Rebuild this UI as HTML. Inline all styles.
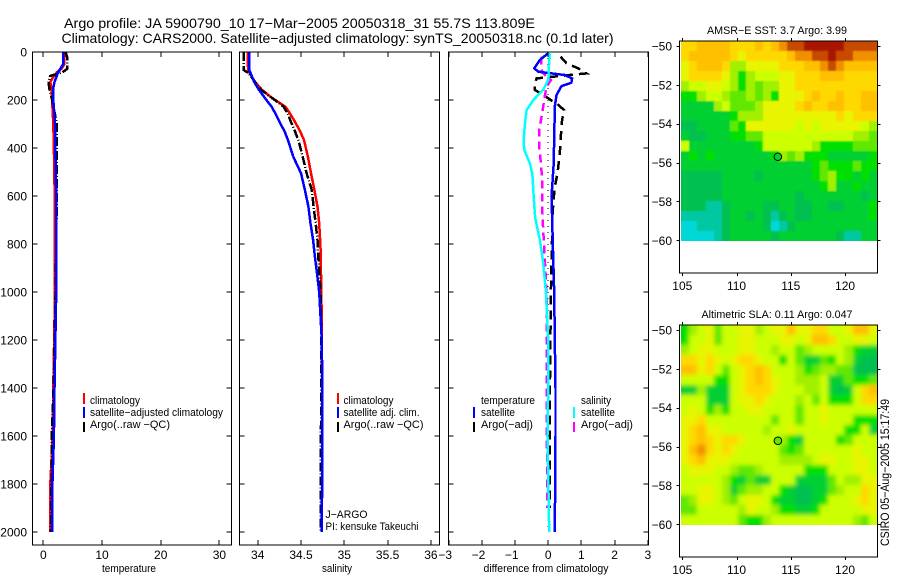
<!DOCTYPE html>
<html>
<head>
<meta charset="utf-8">
<title>Argo profile</title>
<style>
html,body{margin:0;padding:0;background:#fff;width:900px;height:580px;overflow:hidden}
svg{display:block}
text{font-family:"Liberation Sans",sans-serif;fill:#000}
.t14{font-size:14px}.t12{font-size:12px}.t11{font-size:11px}
</style>
</head>
<body>
<svg id="fig" width="900" height="580" viewBox="0 0 900 580" xmlns="http://www.w3.org/2000/svg">
<defs>
<filter id="soft-sst" x="-5%" y="-5%" width="110%" height="110%"><feGaussianBlur stdDeviation="0.9"/></filter>
<filter id="soft-sla" x="-5%" y="-5%" width="110%" height="110%"><feGaussianBlur stdDeviation="2"/></filter>
<clipPath id="clip-sst"><rect x="681" y="41" width="196" height="200"/></clipPath>
<clipPath id="clip-sla"><rect x="681" y="325" width="196" height="200"/></clipPath>
</defs>
<rect width="900" height="580" fill="#fff"/>
<text class="t14" x="64" y="28" textLength="471" lengthAdjust="spacingAndGlyphs">Argo profile: JA 5900790_10 17−Mar−2005 20050318_31 55.7S 113.809E</text>
<text class="t14" x="61.5" y="43" textLength="552" lengthAdjust="spacingAndGlyphs">Climatology: CARS2000. Satellite−adjusted climatology: synTS_20050318.nc (0.1d later)</text>

<text class="t11" x="129" y="572" text-anchor="middle" textLength="54" lengthAdjust="spacingAndGlyphs">temperature</text>
<text class="t11" x="337" y="572" text-anchor="middle" textLength="30" lengthAdjust="spacingAndGlyphs">salinity</text>
<text class="t11" x="546" y="572" text-anchor="middle" textLength="125" lengthAdjust="spacingAndGlyphs">difference from climatology</text>

<text class="t11" x="90" y="404" textLength="50" lengthAdjust="spacingAndGlyphs">climatology</text>
<text class="t11" x="90" y="416" textLength="133" lengthAdjust="spacingAndGlyphs">satellite−adjusted climatology</text>
<text class="t11" x="90" y="428" textLength="80" lengthAdjust="spacingAndGlyphs">Argo(..raw −QC)</text>
<rect x="83" y="393" width="2" height="11" fill="#f00"/>
<rect x="83" y="407" width="2" height="11" fill="#00f"/>
<rect x="83" y="422" width="2" height="10" fill="#000"/>

<text class="t11" x="343.5" y="404" textLength="50" lengthAdjust="spacingAndGlyphs">climatology</text>
<text class="t11" x="343.5" y="416" textLength="76" lengthAdjust="spacingAndGlyphs">satellite adj. clim.</text>
<text class="t11" x="343.5" y="428" textLength="80" lengthAdjust="spacingAndGlyphs">Argo(..raw −QC)</text>
<rect x="337" y="393" width="2" height="11" fill="#f00"/>
<rect x="337" y="407" width="2" height="11" fill="#00f"/>
<rect x="337" y="422" width="2" height="10" fill="#000"/>
<text class="t11" x="325.5" y="518" textLength="42" lengthAdjust="spacingAndGlyphs">J−ARGO</text>
<text class="t11" x="325.5" y="530" textLength="93" lengthAdjust="spacingAndGlyphs">PI: kensuke Takeuchi</text>

<text class="t11" x="481" y="404" textLength="54" lengthAdjust="spacingAndGlyphs">temperature</text>
<text class="t11" x="481" y="416" textLength="34" lengthAdjust="spacingAndGlyphs">satellite</text>
<text class="t11" x="481" y="428" textLength="52" lengthAdjust="spacingAndGlyphs">Argo(−adj)</text>
<rect x="473" y="407" width="2" height="11" fill="#00f"/>
<rect x="473" y="422" width="2" height="10" fill="#000"/>
<text class="t11" x="581" y="404" textLength="30" lengthAdjust="spacingAndGlyphs">salinity</text>
<text class="t11" x="581" y="416" textLength="34" lengthAdjust="spacingAndGlyphs">satellite</text>
<text class="t11" x="581" y="428" textLength="52" lengthAdjust="spacingAndGlyphs">Argo(−adj)</text>
<rect x="573" y="407" width="2" height="11" fill="#0ff"/>
<rect x="573" y="422" width="2" height="10" fill="#f0f"/>

<text class="t11" x="777" y="34" text-anchor="middle" textLength="140" lengthAdjust="spacingAndGlyphs">AMSR−E SST: 3.7 Argo: 3.99</text>
<text class="t11" x="777" y="318" text-anchor="middle" textLength="151" lengthAdjust="spacingAndGlyphs">Altimetric SLA: 0.11 Argo: 0.047</text>
<text class="t12" transform="translate(889,546) rotate(-90)" textLength="147" lengthAdjust="spacingAndGlyphs">CSIRO 05−Aug−2005 15:17:49</text>
</svg>
<script>
/* ---------- profile data ---------- */
const depthTicks = [0,200,400,600,800,1000,1200,1400,1600,1800,2000];
const tempTicks = [0,10,20,30];
const salTicks = [34,34.5,35,35.5,36];
const diffTicks = [-3,-2,-1,0,1,2,3];
const lonTicks = [105,110,115,120];
const latTicks = [-50,-52,-54,-56,-58,-60];

const tempDepths = [0,25,50,70,85,100,125,150,200,300,400,600,1000,1400,1600,1800,2000];
const tempClim = [3.6,3.6,3.6,3.1,2.3,1.8,1.2,1.4,1.5,1.7,1.8,1.95,2.0,1.7,1.6,1.2,1.15];
const tempSat = [3.4,3.4,3.4,2.9,2.5,2.3,1.9,1.7,1.7,2.0,2.05,2.2,2.2,1.9,1.8,1.55,1.5];
const tempArgo = [3.8,4.1,4.1,4.1,3.2,1.15,0.9,1.0,1.5,2.3,2.3,2.3,2.1,1.75,1.45,1.4,1.3];

const salDepths = [0,40,75,90,125,158,190,228,260,297,330,367,436,505,575,644,714,783,853,908,1000,1200,1400,1600,1800,1900,2000];
const salClim = [33.885,33.885,33.89,33.91,33.97,34.05,34.16,34.32,34.38,34.44,34.49,34.535,34.58,34.615,34.655,34.69,34.71,34.72,34.73,34.73,34.735,34.74,34.745,34.745,34.745,34.74,34.74];
const salSat = [33.90,33.90,33.90,33.92,33.96,34.015,34.08,34.16,34.21,34.26,34.31,34.35,34.41,34.50,34.545,34.585,34.61,34.64,34.66,34.68,34.71,34.74,34.746,34.746,34.746,34.74,34.74];
const salArgo = [33.84,33.84,33.84,33.90,33.97,34.04,34.16,34.30,34.35,34.39,34.43,34.47,34.52,34.565,34.625,34.645,34.67,34.69,34.70,34.71,34.725,34.735,34.735,34.73,34.73,34.73,34.727];

const diffBlueDepths = [5,33,68,82,89,96,110,128,142,179,228,367,478,561,603,700,800,1000,1200,1400,1600,2000];
const diffBlue = [0,-0.25,-0.42,-0.3,0.1,0.5,0.72,0.7,0.4,0.25,0.2,0.18,0.16,0.12,0.1,0.12,0.14,0.18,0.2,0.22,0.22,0.2];
const diffCyanDepths = [5,60,89,117,158,200,242,297,367,408,464,506,575,644,693,783,880,1000,1200,1400,1600,2000];
const diffCyan = [0.05,0.02,0.02,0,-0.15,-0.45,-0.65,-0.7,-0.74,-0.72,-0.55,-0.48,-0.45,-0.42,-0.39,-0.25,-0.15,-0.07,0,0,-0.02,0.03];
const diffMagentaDepths = [19,68,89,117,144,200,255,325,394,464,533,617,693,1000,1400,1900];
const diffMagenta = [-0.2,-0.22,-0.15,0.08,-0.05,-0.12,-0.18,-0.27,-0.27,-0.22,-0.18,-0.18,-0.17,-0.05,-0.05,-0.02];
const diffBlackDepths = [19,47,68,89,96,110,130,158,193,220,242,283,353,422,506,561,630,693,1000,1400,1900];
const diffBlack = [0.37,0.55,0.9,1.15,0.65,-0.35,-0.4,-0.4,0,0.3,0.48,0.42,0.38,0.35,0.28,0.2,0.15,0.13,0.08,0.05,0.05];
const zeroLine = [0,0];
const zeroLineDepths = [0,2000];

/* ---------- map data: colour-level grid, 24 columns by 20 rows ---------- */
const sstLevels = [
[9,9,10,10,10,10,9,9,9,10,9,10,11,12,12,13,13,13,13,13,12,12,12,12],
[9,10,10,10,10,10,9,8,9,9,9,9,9,10,11,11,12,12,13,12,12,11,11,11],
[8,9,10,10,10,9,6,6,8,8,8,8,9,9,9,10,10,11,12,11,10,10,10,10],
[8,9,9,9,9,8,6,4,6,7,7,7,8,8,9,9,9,10,10,10,9,9,9,9],
[6,7,7,8,8,7,6,4,6,5,6,6,8,8,9,9,9,9,9,9,9,9,9,9],
[4,4,6,7,7,6,5,5,6,5,6,4,8,8,8,9,10,9,9,10,9,9,10,10],
[3,3,3,3,6,7,5,5,5,6,8,8,8,8,9,10,9,9,10,10,9,9,10,10],
[3,3,3,3,3,3,4,6,6,6,8,8,8,8,8,8,8,8,8,9,8,9,9,9],
[2,2,3,3,3,3,5,4,8,8,8,8,8,8,7,8,7,8,8,8,8,8,7,6],
[3,2,2,3,3,3,4,4,5,5,7,7,7,7,7,7,7,7,7,7,7,6,6,5],
[7,3,3,3,3,3,3,3,3,4,7,7,7,7,7,7,6,4,4,4,4,5,5,5],
[3,4,3,4,3,3,3,3,3,3,3,4,6,5,6,4,4,4,3,3,3,3,3,4],
[3,3,3,3,3,3,3,3,3,3,3,3,3,3,3,3,4,5,4,4,4,5,4,4],
[2,2,2,2,2,3,3,3,3,2,3,3,3,3,3,3,4,5,6,4,4,3,4,3],
[2,2,2,2,2,3,3,3,3,3,3,3,3,3,3,3,3,4,6,3,3,4,3,3],
[2,2,2,2,2,3,3,3,3,3,3,3,3,3,2,3,3,3,3,3,3,3,2,3],
[2,2,2,1,1,2,3,3,3,3,2,2,3,3,2,2,3,3,2,2,3,3,3,4],
[1,1,1,1,1,2,3,3,2,3,2,1,2,3,2,2,3,3,3,3,3,3,3,4],
[0,0,1,1,1,2,3,3,3,3,2,0,1,2,3,3,3,3,3,3,3,3,3,3],
[0,0,0,0,1,2,3,3,3,3,3,2,3,3,3,3,3,3,3,2,1,1,3,3]
];
const slaLevels = [
[4,6,7,8,5,7,7,8,8,6,7,8,8,10,8,8,9,9,7,7,8,10,10,8],
[4,7,7,8,5,7,7,8,8,7,7,7,8,8,7,8,10,10,9,7,7,8,8,7],
[6,7,8,8,7,7,7,8,8,7,7,6,7,7,5,6,7,7,7,7,6,4,3,3],
[9,9,8,9,8,7,8,9,9,8,7,7,4,7,5,3,3,5,4,7,6,3,2,2],
[10,10,8,9,7,5,7,8,9,10,9,7,7,7,6,4,5,6,6,5,5,2,2,2],
[7,7,7,7,4,4,7,8,9,10,9,8,7,7,6,6,6,7,3,3,5,4,4,5],
[3,3,6,3,3,3,7,8,9,9,9,8,7,7,7,6,6,7,3,2,3,7,9,10],
[7,7,7,3,3,3,7,8,8,9,8,7,7,7,6,7,5,7,4,4,4,7,9,9],
[7,8,7,4,6,4,7,7,8,8,7,7,7,7,5,7,7,8,7,7,7,7,7,7],
[8,8,9,7,7,7,7,7,7,7,7,5,7,7,5,7,7,8,7,7,7,4,4,4],
[8,9,10,8,8,7,7,7,7,7,6,7,7,8,7,7,7,7,7,7,4,4,7,3],
[8,9,10,9,8,9,9,8,7,7,7,7,6,4,3,7,7,7,7,4,5,7,7,7],
[8,10,11,9,8,9,8,7,7,7,7,7,5,4,5,7,7,7,7,7,7,8,7,7],
[8,9,10,8,8,8,7,7,7,7,7,7,6,6,6,6,7,8,8,7,7,8,8,7],
[7,8,8,8,7,7,6,5,5,6,7,7,7,7,7,4,4,4,7,7,7,8,8,7],
[7,7,7,7,7,6,4,3,5,3,3,7,7,7,3,3,3,3,5,7,6,6,8,8],
[7,7,8,8,7,6,3,5,6,6,7,7,4,3,2,2,3,3,5,6,7,7,9,8],
[5,6,8,8,7,6,5,7,8,8,7,4,3,3,2,2,3,4,7,7,7,8,9,8],
[5,5,7,7,7,7,7,6,8,7,7,6,4,4,3,3,4,7,7,7,7,7,8,8],
[7,7,7,7,7,7,7,5,4,4,6,7,7,7,7,7,7,7,7,7,7,6,5,7]
];
const floatLon = 113.809;
const floatLat = -55.7;
const sstFloatLevel = 3;
const slaFloatLevel = 5;
const levelColors = ["#00d8d8","#00c8a0","#00c050","#00d030","#00e000","#60e800","#a0f000","#ccff00","#e8f400","#ffd800","#ffc000","#f09000","#c84800","#a81800"];

/* ---------- helpers ---------- */
const NS = "http://www.w3.org/2000/svg";
const fig = document.getElementById("fig");
function make(tag, attrs, parent){
  const el = document.createElementNS(NS, tag);
  for (const k in attrs) el.setAttribute(k, attrs[k]);
  (parent || fig).appendChild(el);
  return el;
}
function fmt(v){ return String(v).replace("-", "\u2212"); }
function line(x1,y1,x2,y2,name){
  const el = make("line",{x1:x1,y1:y1,x2:x2,y2:y2,stroke:"#000","stroke-width":1,"shape-rendering":"crispEdges"});
  
  
  return el;
}
function label(x,y,str,anchor,cls,name){
  const el = make("text",{x:x,y:y,"text-anchor":anchor,class:cls});
  el.textContent = str;
  
  
  return el;
}

/* ---------- axis functions ---------- */
const depthY = d => 52 + 0.24 * d;
const tempX = v => 43.3 + 5.87 * v;
const salX = v => 257.7 + 86.6 * (v - 34);
const diffX = v => 548.2 + 33.2 * v;

function profile(depths, values, xf, color, dash, name, width){
  const d = values.map((v,i)=>(i?"L":"M")+xf(v).toFixed(1)+" "+depthY(depths[i]).toFixed(1)).join("");
  const el = make("path",{d:d,fill:"none",stroke:color,"stroke-width":width||2.5,"shape-rendering":"crispEdges"});
  if (dash) el.setAttribute("stroke-dasharray",dash);
  
  
}
function profileFrame(left,right,xf,ticks,tickName,showDepth){
  const top=52,bottom=545;
  depthTicks.forEach(d=>{
    const y=Math.round(depthY(d));
    if (d>0){
      line(left,y,left+5,y,tickName+"-depth-tick-left");
      line(right-5,y,right,y,tickName+"-depth-tick-right");
    }
    if (showDepth) label(27,y+4.5,String(d),"end","t12","depth-tick-label");
  });
  ticks.forEach(t=>{
    const x=Math.round(xf(t));
    line(x,top,x,top+5,tickName+"-x-tick-top");
    line(x,bottom-5,x,bottom,tickName+"-x-tick-bottom");
    if (t<0) label(xf(t)+3.5,559,fmt(t),"end","t12",tickName+"-x-tick-label");
    else label(xf(t),559,fmt(t),"middle","t12",tickName+"-x-tick-label");
  });
  const box=make("rect",{x:left,y:top,width:right-left,height:bottom-top,fill:"none",stroke:"#000","stroke-width":1,"shape-rendering":"crispEdges"});
  
  
}

/* ---------- profile panels ---------- */
profile(tempDepths,tempClim,tempX,"#f00",null,"temperature-climatology-line");
profile(tempDepths,tempArgo,tempX,"#000","9 2 1 2","temperature-argo-line");
profile(tempDepths,tempSat,tempX,"#00f",null,"temperature-satellite-line");
profileFrame(32.5,231.5,tempX,tempTicks,"temperature",true);

profile(salDepths,salClim,salX,"#f00",null,"salinity-climatology-line");
profile(salDepths,salArgo,salX,"#000","9 2 1 2","salinity-argo-line");
profile(salDepths,salSat,salX,"#00f",null,"salinity-satellite-line");
profileFrame(239.5,439.5,salX,salTicks,"salinity",false);

profile(zeroLineDepths,zeroLine,diffX,"#000","1 5","difference-zero-line",1);
profile(diffBlackDepths,diffBlack,diffX,"#000","9 6","difference-temp-argo-line");
profile(diffMagentaDepths,diffMagenta,diffX,"#f0f","8 5","difference-sal-argo-line");
profile(diffBlueDepths,diffBlue,diffX,"#00f",null,"difference-temp-satellite-line");
profile(diffCyanDepths,diffCyan,diffX,"#0ff",null,"difference-sal-satellite-line");
profileFrame(448.5,648.5,diffX,diffTicks,"difference",false);

/* ---------- map panels ---------- */
const lonX = lon => 682.3 + 10.85 * (lon - 105);
const CELL_W = 196 / 24, CELL_H = 10;
function mapPanel(levels,top,lat50Y,floatLevel,name,clipId,filterId){
  const latY = lat => lat50Y + 19.43 * (-50 - lat);
  const imgLeft = 681;
  const imgTop = top;
  const clip = make("g",{"clip-path":"url(#"+clipId+")"});
  
  
  const soft = make("g",{filter:"url(#"+filterId+")"},clip);
  const nr = levels.length;
  levels.forEach((row,i)=>row.forEach((lv,j)=>{
    const nc=row.length, pad=8;
    let x0=Math.round(imgLeft+j*CELL_W), x1=Math.round(imgLeft+(j+1)*CELL_W);
    let y0=imgTop+i*CELL_H, y1=y0+CELL_H;
    if (j===0) x0-=pad;
    if (j===nc-1) x1+=pad;
    if (i===0) y0-=pad;
    if (i===nr-1) y1+=pad;
    const c=make("rect",{x:x0,y:y0,width:x1-x0,height:y1-y0,fill:levelColors[lv],"shape-rendering":"crispEdges"},soft);
    
    
  }));
  const left=679.5,right=877.5,bottom=top+232;
  const box=make("rect",{x:left,y:top,width:right-left,height:bottom-top,fill:"none",stroke:"#000","stroke-width":1,"shape-rendering":"crispEdges"});
  
  
  lonTicks.forEach(t=>{
    const x=Math.round(lonX(t))+0.5;
    line(x,top-3,x,top,name+"-lon-tick-top");
    line(x,bottom,x,bottom+3,name+"-lon-tick-bottom");
    label(lonX(t),bottom+17,String(t),"middle","t12",name+"-lon-tick-label");
  });
  latTicks.forEach(t=>{
    const y=Math.round(latY(t))+0.5;
    line(left-3,y,left,y,name+"-lat-tick-left");
    line(right,y,right+3,y,name+"-lat-tick-right");
    label(672,latY(t)+4.5,fmt(t),"end","t12",name+"-lat-tick-label");
  });
  const m=make("circle",{cx:lonX(floatLon),cy:latY(floatLat),r:3.8,fill:levelColors[floatLevel],stroke:"#000","stroke-width":1});
  
  
}
mapPanel(sstLevels,41,46,sstFloatLevel,"sst-map","clip-sst","soft-sst");
mapPanel(slaLevels,325,330,slaFloatLevel,"sla-map","clip-sla","soft-sla");
</script>
</body>
</html>
